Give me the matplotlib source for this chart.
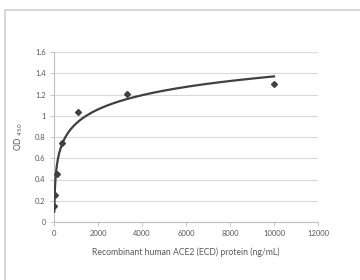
import numpy as np
import matplotlib
matplotlib.use("Agg")
import matplotlib.pyplot as plt
from matplotlib.patches import Rectangle

# ACE2 (ECD) dose-response, 1:3 serial dilution
conc = [13.7, 41.2, 123.5, 370.4, 1111.1, 3333.3, 10000.0]
od450 = [0.153, 0.254, 0.449, 0.743, 1.038, 1.205, 1.30]
x_ticks = [0, 2000, 4000, 6000, 8000, 10000, 12000]
y_ticks = [0, 0.2, 0.4, 0.6, 0.8, 1.0, 1.2, 1.4, 1.6]
y_tick_labels = ["0", "0.2", "0.4", "0.6", "0.8", "1", "1.2", "1.4", "1.6"]

plt.rcParams["font.family"] = ["Lato", "DejaVu Sans"]
TXT = "#595959"
DARK = "#404040"
GRID = "#d9d9d9"

fig = plt.figure(figsize=(3.6, 2.8), dpi=100)
fig.patch.set_facecolor("white")

# excel-style chart frame (runs off the right/bottom edge)
fig.patches.append(Rectangle((4.5 / 360, -0.1), 1.2, (280 - 9.5) / 280 + 0.1,
                             transform=fig.transFigure, fill=False,
                             edgecolor="#d4d4d4", linewidth=1.3))

ax = fig.add_axes([54 / 360, (280 - 222) / 280, (318 - 54) / 360, 170 / 280])

# logarithmic trendline fitted to the points
slope, icpt = np.polyfit(np.log(conc), od450, 1)
xs = np.linspace(min(conc), max(conc), 600)
ax.plot(xs, slope * np.log(xs) + icpt, color=DARK, lw=1.6, zorder=3)
ax.plot(conc, od450, linestyle="none", marker="D", ms=3.0,
        color=DARK, zorder=4)

ax.set_xlim(0, 12000)
ax.set_ylim(0, 1.6)
ax.set_xticks(x_ticks)
ax.set_xticklabels([str(t) for t in x_ticks])
ax.set_yticks(y_ticks)
ax.set_yticklabels(y_tick_labels)
ax.grid(axis="y", color=GRID, lw=0.8)
ax.set_axisbelow(True)

for side in ("top", "right"):
    ax.spines[side].set_visible(False)
for side in ("left", "bottom"):
    ax.spines[side].set_color("#bfbfbf")
    ax.spines[side].set_linewidth(0.8)
ax.tick_params(colors="#bfbfbf", labelcolor=TXT, labelsize=5.5, length=3,
               width=0.6, direction="out", pad=3)

ax.set_xlabel("Recombinant human ACE2 (ECD) protein (ng/mL)",
              fontsize=6.2, color=TXT, labelpad=7)
ax.set_ylabel("OD $_{450}$", fontsize=6.2, color=TXT, labelpad=7)

fig.savefig("out.png", dpi=100)
